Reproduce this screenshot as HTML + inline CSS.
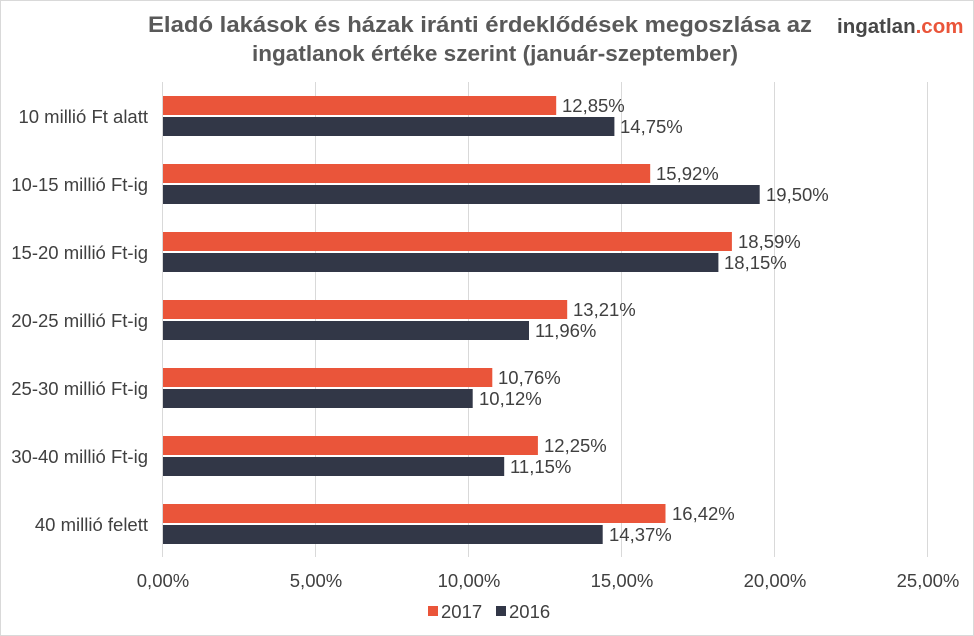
<!DOCTYPE html>
<html><head><meta charset="utf-8"><style>
body{margin:0;background:#fff}
svg{display:block;font-family:"Liberation Sans",Arial,sans-serif}
</style></head><body>
<svg width="974" height="636" viewBox="0 0 974 636" xmlns="http://www.w3.org/2000/svg">
<rect x="0.5" y="0.5" width="973" height="635" fill="#fff" stroke="#d9d9d9"/>
<text x="148" y="32" font-size="22" font-weight="bold" fill="#595959" textLength="664" lengthAdjust="spacingAndGlyphs">Eladó lakások és házak iránti érdeklődések megoszlása az</text>
<text x="252" y="61" font-size="22" font-weight="bold" fill="#595959" textLength="486" lengthAdjust="spacingAndGlyphs">ingatlanok értéke szerint (január-szeptember)</text>
<text x="837" y="33" font-size="20.5" font-weight="bold" fill="#474747">ingatlan<tspan fill="#ea553a">.com</tspan></text>
<g stroke="#d9d9d9" stroke-width="1">
<line x1="315.5" y1="82" x2="315.5" y2="557"/>
<line x1="468.5" y1="82" x2="468.5" y2="557"/>
<line x1="621.5" y1="82" x2="621.5" y2="557"/>
<line x1="774.5" y1="82" x2="774.5" y2="557"/>
<line x1="927.5" y1="82" x2="927.5" y2="557"/>
<line x1="162.5" y1="82" x2="162.5" y2="557"/>
</g>
<g font-size="18.5" fill="#404040">
<g text-anchor="end">
<text x="148" y="123">10 millió Ft alatt</text>
<text x="148" y="191">10-15 millió Ft-ig</text>
<text x="148" y="259">15-20 millió Ft-ig</text>
<text x="148" y="327">20-25 millió Ft-ig</text>
<text x="148" y="395">25-30 millió Ft-ig</text>
<text x="148" y="463">30-40 millió Ft-ig</text>
<text x="148" y="531">40 millió felett</text>
</g>
<g fill="#ea553a">
<rect x="163" y="96" width="393.2" height="19"/>
<rect x="163" y="164" width="487.2" height="19"/>
<rect x="163" y="232" width="568.9" height="19"/>
<rect x="163" y="300" width="404.2" height="19"/>
<rect x="163" y="368" width="329.3" height="19"/>
<rect x="163" y="436" width="374.9" height="19"/>
<rect x="163" y="504" width="502.5" height="19"/>
</g>
<g fill="#323747">
<rect x="163" y="117" width="451.4" height="19"/>
<rect x="163" y="185" width="596.7" height="19"/>
<rect x="163" y="253" width="555.4" height="19"/>
<rect x="163" y="321" width="366.0" height="19"/>
<rect x="163" y="389" width="309.7" height="19"/>
<rect x="163" y="457" width="341.2" height="19"/>
<rect x="163" y="525" width="439.7" height="19"/>
</g>
<text x="562" y="112">12,85%</text>
<text x="620" y="133">14,75%</text>
<text x="656" y="180">15,92%</text>
<text x="766" y="201">19,50%</text>
<text x="738" y="248">18,59%</text>
<text x="724" y="269">18,15%</text>
<text x="573" y="316">13,21%</text>
<text x="535" y="337">11,96%</text>
<text x="498" y="384">10,76%</text>
<text x="479" y="405">10,12%</text>
<text x="544" y="452">12,25%</text>
<text x="510" y="473">11,15%</text>
<text x="672" y="520">16,42%</text>
<text x="609" y="541">14,37%</text>
<g text-anchor="middle">
<text x="163" y="587">0,00%</text>
<text x="316" y="587">5,00%</text>
<text x="469" y="587">10,00%</text>
<text x="622" y="587">15,00%</text>
<text x="775" y="587">20,00%</text>
<text x="928" y="587">25,00%</text>
</g>
</g>
<rect x="428" y="606" width="10" height="10" fill="#ea553a"/>
<text x="441" y="618" font-size="18.5" fill="#404040">2017</text>
<rect x="496" y="606" width="10" height="10" fill="#323747"/>
<text x="509" y="618" font-size="18.5" fill="#404040">2016</text>
</svg>
</body></html>
